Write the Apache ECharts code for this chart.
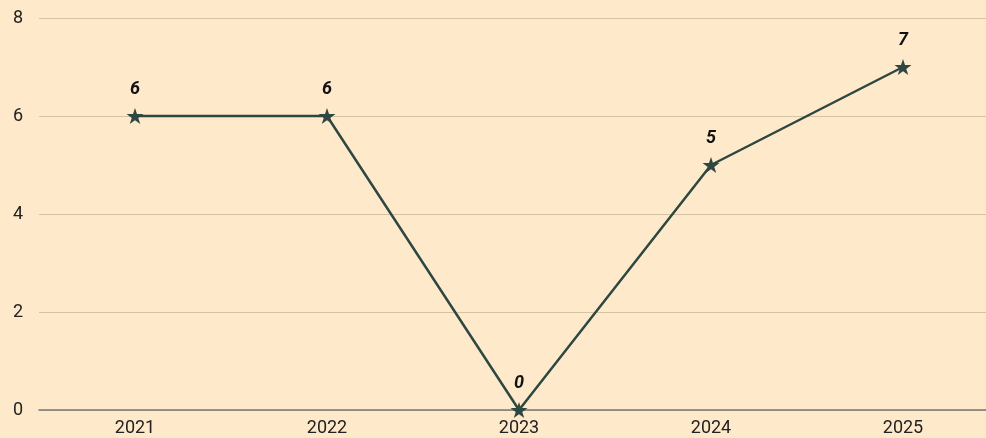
<!DOCTYPE html>
<html><head><meta charset="utf-8">
<script src="https://cdn.jsdelivr.net/npm/echarts@6/dist/echarts.min.js"></script>
<style>html,body{margin:0;padding:0;background:#fee9cb;overflow:hidden;}#c{width:986px;height:438px;}</style>
</head><body><div id="c"></div>
<script>
const categories = ['2021','2022','2023','2024','2025'];
const values = [6, 6, 0, 5, 7];
const yTicks = { min: 0, max: 8, interval: 2 };
const star = 'path://M50,0 L61.2,34.5 L97.6,34.5 L68.2,55.9 L79.4,90.5 L50,69.1 L20.6,90.5 L31.8,55.9 L2.4,34.5 L38.8,34.5 Z';
const chart = echarts.init(document.getElementById('c'));
chart.setOption({
  backgroundColor: '#fee9cb',
  animation: false,
  grid: { left: 39, width: 960, top: 18, bottom: 28, outerBoundsMode: 'none', containLabel: false },
  xAxis: {
    type: 'category', data: categories, boundaryGap: true,
    axisLine: { lineStyle: { color: '#777', width: 1.5 } },
    axisTick: { show: false },
    axisLabel: { color: '#222', fontSize: 18, fontFamily: 'Roboto', margin: 9 }
  },
  yAxis: {
    type: 'value', min: yTicks.min, max: yTicks.max, interval: yTicks.interval,
    axisLine: { show: false }, axisTick: { show: false },
    splitLine: { lineStyle: { color: '#d6c3a3', width: 1 } },
    axisLabel: { color: '#222', fontSize: 18, fontFamily: 'Roboto', margin: 16 }
  },
  series: [{
    type: 'line', data: values,
    symbol: star, symbolSize: 17, symbolKeepAspect: true,
    lineStyle: { color: '#2e4741', width: 2.5 },
    itemStyle: { color: '#2e4741' },
    label: { show: true, position: 'top', distance: 9, color: '#111', fontSize: 18,
      fontStyle: 'italic', fontWeight: 'bold', fontFamily: 'Roboto' }
  }]
});
</script></body></html>
